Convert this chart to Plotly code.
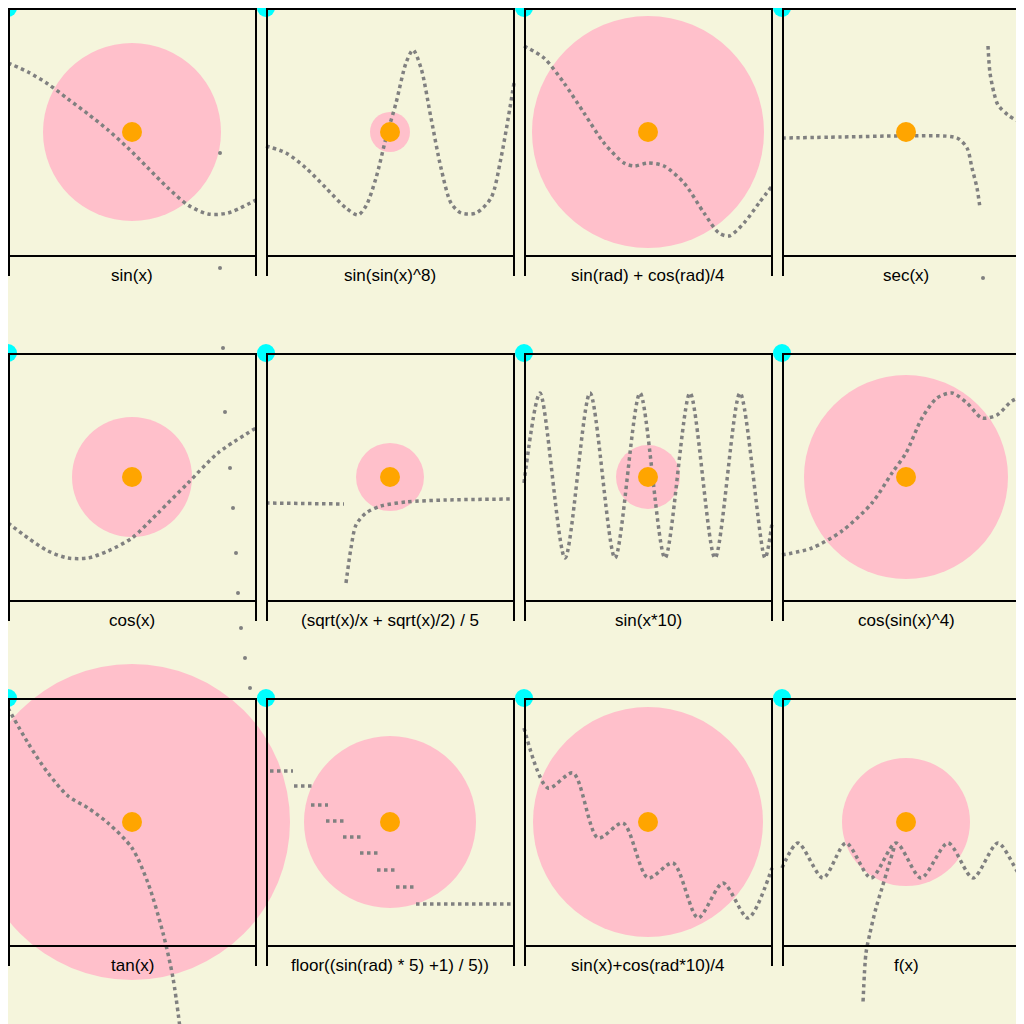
import plotly.graph_objects as go

# panel titles, row-major
titles = ["sin(x)", "sin(sin(x)^8)", "sin(rad) + cos(rad)/4", "sec(x)",
          "cos(x)", "(sqrt(x)/x + sqrt(x)/2) / 5", "sin(x*10)", "cos(sin(x)^4)",
          "tan(x)", "floor((sin(rad) * 5) +1) / 5))", "sin(x)+cos(rad*10)/4", "f(x)"]

# pink circle radius per panel (px)
radii = [89, 20, 116, 0, 60, 34, 32, 102, 158, 86, 115, 64]

# curve samples per panel, local px (x right, y down from box top); None splits segments
curves = [
    ([0, 20, 40, 60, 80, 100, 120, 140, 160, 180, 200, 220, 248],
     [55, 64, 76, 91, 106, 122, 140, 160, 180, 197, 206, 205, 192]),
    ([0, 20, 40, 60, 80, 92, 100, 110, 120, 130, 140, 147, 155, 165, 175, 185, 195, 210, 225, 235, 248],
     [138, 145, 160, 180, 200, 207, 198, 170, 130, 95, 55, 42, 60, 110, 160, 195, 205, 205, 190, 150, 75]),
    ([0, 20, 40, 60, 80, 100, 110, 124, 140, 160, 180, 195, 205, 220, 235, 248],
     [38, 50, 75, 105, 135, 155, 158, 155, 158, 175, 205, 225, 228, 215, 195, 178]),
    ([0, 60, 120, 175, 185, 190, 195, 198, None, 206, 208, 212, 216, 226, 236, 250],
     [130, 129, 128, 130, 140, 160, 180, 200, None, 38, 65, 85, 97, 107, 113, 118]),
    ([0, 20, 40, 60, 80, 100, 124, 150, 180, 210, 248],
     [170, 185, 198, 205, 205, 198, 185, 160, 130, 100, 75]),
    ([0, 78, None, 80, 85, 90, 100, 115, 140, 180, 248],
     [150, 151, None, 230, 195, 172, 160, 153, 149, 147, 146]),
    ([0, 16, 41, 66, 91, 116, 141, 166, 191, 216, 241, 248],
     [130, 40, 205, 40, 205, 40, 205, 40, 205, 40, 205, 170]),
    ([0, 30, 60, 90, 110, 124, 140, 155, 170, 185, 200, 215, 230, 250],
     [202, 195, 178, 150, 120, 100, 65, 45, 40, 50, 65, 62, 48, 40]),
    ([0, 20, 40, 60, 80, 100, 124, 140, 155, 165, 172],
     [10, 45, 75, 98, 110, 125, 150, 185, 235, 280, 330]),
    ([0, 2, None, 4, 27, None, 28, 47, None, 45, 62, None, 60, 79, None, 77, 95, None,
      94, 112, None, 111, 130, None, 130, 150, None, 150, 248],
     [55, 55, None, 73, 73, None, 88, 88, None, 107, 107, None, 123, 123, None, 139, 139, None,
      155, 155, None, 172, 172, None, 189, 189, None, 206, 206]),
    ([0, 24, 49, 74, 99, 124, 149, 174, 199, 224, 248],
     [30, 90, 75, 140, 125, 180, 165, 220, 185, 220, 170]),
    ([0, 16, 41, 64, 89, 114, 139, 166, 191, 216, 241, 250, None, 112, 106, 100, 94, 88, 84, 81],
     [170, 145, 180, 145, 180, 145, 180, 145, 180, 145, 180, 165, None, 150, 170, 190, 210, 235, 255, 305]),
]

# stray dots seen outside the curves (local px of the panel they sit in)
stray_panel = [0, 0, 3, 4, 4, 4, 4, 4, 4, 4, 4, 4]
stray_x = [212, 212, 201, 215, 217, 222, 225, 228, 230, 233, 237, 242]
stray_y = [145, 260, 270, -5, 59, 115, 155, 200, 240, 275, 305, 335]

PW, PH, BOX = 258, 345, 248
BG = "#f5f5dc"

fig = go.Figure()
shapes = []
for i, t in enumerate(titles):
    r, c = divmod(i, 4)
    ox, oy = c * PW, r * PH
    cx, cy = ox + 124, oy + 124
    if radii[i] > 0:
        shapes.append(dict(type="circle", xref="x", yref="y", layer="below",
                           x0=cx - radii[i], x1=cx + radii[i], y0=cy - radii[i], y1=cy + radii[i],
                           fillcolor="pink", line_width=0))
    # box
    shapes.append(dict(type="line", x0=ox, x1=ox + BOX, y0=oy + 1, y1=oy + 1, line=dict(color="black", width=2)))
    shapes.append(dict(type="line", x0=ox, x1=ox + BOX, y0=oy + BOX, y1=oy + BOX, line=dict(color="black", width=2)))
    shapes.append(dict(type="line", x0=ox + 1, x1=ox + 1, y0=oy, y1=oy + 268, line=dict(color="black", width=2)))
    shapes.append(dict(type="line", x0=ox + BOX, x1=ox + BOX, y0=oy, y1=oy + 268, line=dict(color="black", width=2)))

    xs, ys = curves[i]
    fig.add_trace(go.Scatter(
        x=[None if v is None else ox + v for v in xs],
        y=[None if v is None else oy + v for v in ys],
        mode="lines", line=dict(color="gray", width=3.5, dash="dot", shape="spline", smoothing=0.8),
        showlegend=False, hoverinfo="skip"))
    fig.add_annotation(x=cx, y=oy + 267, text=t, showarrow=False,
                       font=dict(family="Liberation Sans, Arial", size=17, color="black"))

fig.add_trace(go.Scatter(
    x=[(p % 4) * PW + x for p, x in zip(stray_panel, stray_x)],
    y=[(p // 4) * PH + y for p, y in zip(stray_panel, stray_y)],
    mode="markers", marker=dict(color="gray", size=4), showlegend=False, hoverinfo="skip"))

fig.add_trace(go.Scatter(
    x=[(i % 4) * PW + 124 for i in range(12)], y=[(i // 4) * PH + 124 for i in range(12)],
    mode="markers", marker=dict(color="orange", size=20), showlegend=False, hoverinfo="skip"))
fig.add_trace(go.Scatter(
    x=[(i % 4) * PW for i in range(12)], y=[(i // 4) * PH for i in range(12)],
    mode="markers", marker=dict(color="cyan", size=18), showlegend=False, hoverinfo="skip", cliponaxis=False))

fig.update_layout(
    width=1024, height=1024, margin=dict(l=0, r=0, t=0, b=0, autoexpand=False),
    paper_bgcolor=BG, plot_bgcolor=BG, shapes=shapes,
    xaxis=dict(range=[0, 1024], visible=False, fixedrange=True),
    yaxis=dict(range=[1024, 0], visible=False, fixedrange=True),
)
fig.write_html("out.html")
